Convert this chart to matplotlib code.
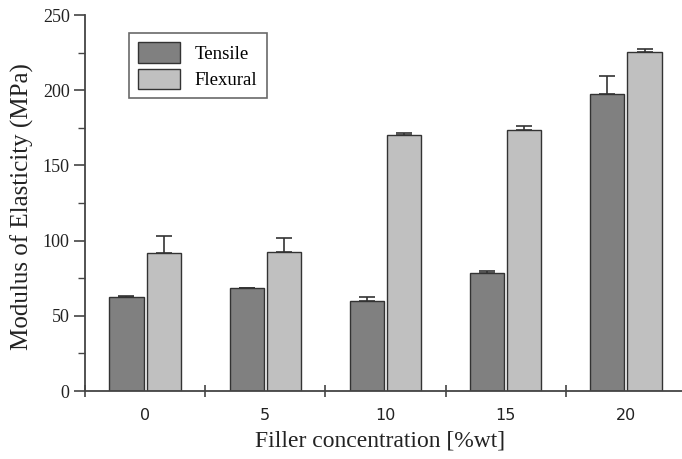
import numpy as np
import matplotlib
matplotlib.use("Agg")
import matplotlib.pyplot as plt
from matplotlib.ticker import MultipleLocator, FixedLocator

# data
concentrations = ["0", "5", "10", "15", "20"]
tensile = [62.2, 68.4, 60.0, 78.2, 197.3]
tensile_err = [0.7, 0.0, 2.7, 1.8, 12.0]
flexural = [91.5, 92.2, 170.0, 173.3, 225.1]
flexural_err = [11.8, 9.6, 1.8, 2.9, 2.4]

x = np.arange(len(concentrations))
w = 0.285
off = 0.155

fig = plt.figure(figsize=(6.82, 4.59), dpi=100)
ax = fig.add_axes([85/682, 1 - 391/459, 601/682, (391 - 15)/459])

edge = "#333333"
ax.bar(x - off, tensile, w, color="#808080", edgecolor=edge, linewidth=1.0,
       yerr=[np.zeros(5), tensile_err], capsize=5.5,
       error_kw=dict(ecolor=edge, elinewidth=1.2, capthick=1.2), label="Tensile", zorder=2)
ax.bar(x + off, flexural, w, color="#c0c0c0", edgecolor=edge, linewidth=1.0,
       yerr=[np.zeros(5), flexural_err], capsize=5.5,
       error_kw=dict(ecolor=edge, elinewidth=1.2, capthick=1.2), label="Flexural", zorder=2)

ax.set_xlim(-0.5, 4.5)
ax.set_ylim(0, 250)

for s in ["top", "right"]:
    ax.spines[s].set_visible(False)
for s in ["left", "bottom"]:
    ax.spines[s].set_color("#444444")
    ax.spines[s].set_linewidth(1.3)
    ax.spines[s].set_zorder(3)

# x: tick marks between groups, labels at group centres
ax.xaxis.set_major_locator(FixedLocator(np.arange(-0.5, 4.6, 1.0)))
ax.xaxis.set_major_formatter(plt.NullFormatter())
ax.xaxis.set_minor_locator(FixedLocator(x))
ax.set_xticklabels(concentrations, minor=True)
ax.tick_params(axis="x", which="major", direction="inout", length=9, width=1.2, color="#444444")
ax.tick_params(axis="x", which="minor", length=0, pad=12, labelsize=11.5)
for lab in ax.get_xticklabels(minor=True):
    lab.set_family("DejaVu Sans")
    lab.set_color("#222222")

ax.yaxis.set_major_locator(MultipleLocator(50))
ax.yaxis.set_minor_locator(MultipleLocator(25))
ax.tick_params(axis="y", which="major", direction="out", length=8, width=1.2, color="#444444",
               labelsize=13, pad=3)
ax.tick_params(axis="y", which="minor", direction="out", length=5, width=1.0, color="#444444")
for lab in ax.get_yticklabels():
    lab.set_family("Liberation Serif")
    lab.set_color("#222222")

ax.set_xlabel("Filler concentration [%wt]", family="Liberation Serif", fontsize=17, labelpad=8,
              color="#222222")
ax.set_ylabel("Modulus of Elasticity (MPa)", family="Liberation Serif", fontsize=18, color="#222222")
ax.xaxis.set_label_coords(295/601, -0.105)
ax.yaxis.set_label_coords(-0.085, 0.49)

leg = ax.legend(loc="upper left", bbox_to_anchor=(44/601, 1 - 18/376), frameon=True, fancybox=False,
                prop={"family": "Liberation Serif", "size": 13.5}, handlelength=2.2, handleheight=1.3,
                borderpad=0.5, labelspacing=0.3, handletextpad=0.8, borderaxespad=0)
leg.get_frame().set_edgecolor("#444444")
leg.get_frame().set_linewidth(1.2)

fig.savefig("out.png", dpi=100)
